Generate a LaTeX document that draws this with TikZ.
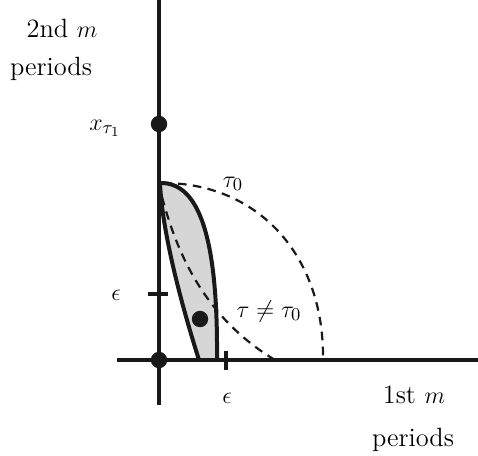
\documentclass[tikz,border=0pt]{standalone}
\begin{document}
\begin{tikzpicture}[x=0.5pt,y=-0.5pt,
  axis/.style={line width=1.7pt,black!90},
  outline/.style={line width=2pt,black!90,line join=round},
  dashline/.style={line width=1.1pt,black!90,dash pattern=on 4.3pt off 3.2pt},
  dot/.style={circle,fill=black!90,inner sep=0pt,minimum size=8.2pt},
  lab/.style={anchor=base,inner sep=0pt,font=\fontsize{13.2}{15}\selectfont}]
\useasboundingbox (0,0) rectangle (478,456);
% axes
\coordinate (ytop) at (159,0);
\coordinate (ybot) at (159,405);
\coordinate (xl) at (117,360);
\coordinate (xr) at (478,360);
% shaded leaf
\coordinate (lt) at (160,183);
\coordinate (lbr) at (217,360);
\coordinate (lbl) at (199,360);
\fill[fill=black!16] (lt) .. controls (200,182) and (218,240) .. (lbr) -- (lbl) .. controls (180,300) and (162,230) .. (lt);
\draw[axis] (ytop) -- (ybot);
\draw[axis] (xl) -- (xr);
% dashed curves
\coordinate (ds) at (162,197);
\coordinate (de) at (275,360);
\draw[dashline] (ds) .. controls (175,245) and (200,315) .. (de);
\coordinate (cs) at (163,183);
\coordinate (ce) at (323,356);
\draw[dashline] (cs) .. controls (257,183) and (323,254) .. (ce);
\draw[outline] (lbl) .. controls (180,300) and (162,230) .. (lt) .. controls (200,182) and (218,240) .. (lbr);
% ticks
\coordinate (t1a) at (148,294); \coordinate (t1b) at (168,294);
\draw[axis] (t1a) -- (t1b);
\coordinate (t2a) at (226,351); \coordinate (t2b) at (226,370);
\draw[axis] (t2a) -- (t2b);
% dots
\node[dot] (o) at (159,360) {};
\node[dot] (xt) at (159,124) {};
\node[dot] (p) at (200,319) {};
% labels
\node[lab] (l2a) at (62,37) {2nd $m$};
\node[lab] (l2b) at (51,75) {periods};
\node[lab] (lxt) at (105,130) {$x_{\tau_1}$};
\node[lab] (lt0) at (233,187) {$\tau_0$};
\node[lab] (ltn) at (269,317) {$\tau\neq\tau_0$};
\node[lab] (le1) at (116,300) {$\epsilon$};
\node[lab] (le2) at (227,403) {$\epsilon$};
\node[lab] (l1a) at (414,403) {1st $m$};
\node[lab] (l1b) at (413,446) {periods};
\end{tikzpicture}
\end{document}
